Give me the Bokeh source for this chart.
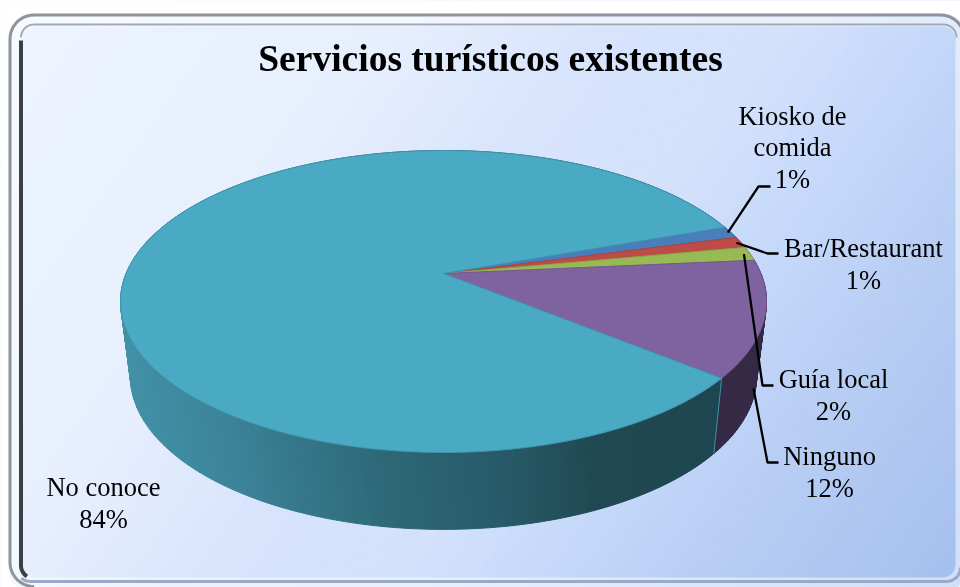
import numpy as np
from bokeh.plotting import figure
from bokeh.models import Range1d
from bokeh.core.properties import value
from bokeh.embed import file_html
from bokeh.resources import INLINE

# ---- data ----
TITLE = "Servicios turísticos existentes"
categories = ["Kiosko de comida", "Bar/Restaurant", "Guía local", "Ninguno", "No conoce"]
shares = [1.3, 1.2, 1.5, 12.4, 83.6]
pct_labels = ["1%", "1%", "2%", "12%", "84%"]
top_colors = ["#4a7ebb", "#be4b48", "#98b954", "#7f62a0", "#4aa9c3"]
edge_colors = ["#4274ad", "#a94441", "#88a54c", "#725890", "#3f96ae"]
side_colors = ["#2c4a70", "#702b2a", "#5a6e32", "#352a45", None]
first_slice_angle = 70.3

# ---- layout / style ----
W, H = 960, 587
CX = 443
TOP = dict(k=0.1854, a=317.4, b=145.8, y0=273.0, rot=0.0)
BOT = dict(k=0.16, a=309.0, b=149.0, y0=351.5, rot=1.4)
TEAL_STOPS_X = [120, 250, 400, 500, 600, 720]
TEAL_STOPS_C = [(0x42, 0x93, 0xaa), (0x3b, 0x82, 0x96), (0x2d, 0x67, 0x76),
                (0x27, 0x5b, 0x69), (0x1f, 0x48, 0x51), (0x1e, 0x46, 0x50)]
BG_T = [0.0, 0.30, 0.45, 0.59, 0.70, 0.81, 0.98, 1.0]
BG_C = [(0xee, 0xf5, 0xff), (0xe7, 0xef, 0xfe), (0xd8, 0xe4, 0xfc), (0xd3, 0xe1, 0xfb),
        (0xc4, 0xd8, 0xfa), (0xb7, 0xcd, 0xf3), (0xa6, 0xc0, 0xef), (0xa4, 0xbe, 0xee)]


def proj(theta_deg, P, radius=1.0):
    t = np.radians(np.asarray(theta_deg) + P["rot"])
    u, v = radius * np.cos(t), radius * np.sin(t)
    d = 1 + P["k"] * v
    return CX + P["a"] * u / d, P["y0"] - P["b"] * v / d


def rrect(l, t, r, b, rad, n=12):
    xs, ys = [], []
    for cx, cy, a0 in [(r - rad, t + rad, -90), (r - rad, b - rad, 0), (l + rad, b - rad, 90), (l + rad, t + rad, 180)]:
        a = np.radians(np.linspace(a0, a0 + 90, n))
        xs += list(cx + rad * np.cos(a))
        ys += list(cy + rad * np.sin(a))
    return xs, ys


def hexc(c):
    return "#%02x%02x%02x" % tuple(int(round(v)) for v in c)


p = figure(width=W, height=H, x_range=Range1d(0, W), y_range=Range1d(H, 0), output_backend="svg",
           toolbar_location=None, min_border=0, outline_line_color=None, background_fill_color="white",
           border_fill_color="white", styles={"position": "fixed", "left": "0px", "top": "0px"})
p.xaxis.visible = False
p.yaxis.visible = False
p.grid.visible = False

# background gradient: diagonal bands
bands = np.linspace(0, 1, 121)
bx, by, bc = [], [], []
yt, yb = -10.0, H + 10.0
def xat(t, y):
    return W * (t - 0.3 * y / H) / 0.7
for t0, t1 in zip(bands[:-1], bands[1:]):
    e0 = t0 if t0 > 0 else -0.2
    e1 = t1 if t1 < 1 else 1.2
    bx.append([xat(e0, yt), xat(e1, yt), xat(e1, yb), xat(e0, yb)])
    by.append([yt, yt, yb, yb])
    bc.append(hexc([np.interp((t0 + t1) / 2, BG_T, [c[i] for c in BG_C]) for i in range(3)]))
p.patches(xs=bx, ys=by, fill_color=bc, line_color=bc, line_width=1)

# frame: mask outside, band, strokes (single outlines with a seam, no holes)
ox, oy = rrect(8, 13, 966, 592, 24)
ix, iy = rrect(22, 26, 955, 577, 13)
p.patch([-5, W + 5, W + 5, -5, -5] + ox[::-1] + [ox[-1], -5], [-5, -5, H + 5, H + 5, -5] + oy[::-1] + [oy[-1], -5],
        fill_color="white", line_color=None)
p.patch(ox + [ox[0]] + ix[::-1][-1:] + ix[::-1] + [ix[0]], oy + [oy[0]] + iy[::-1][-1:] + iy[::-1] + [iy[0]],
        fill_color="white", fill_alpha=0.5, line_color=None)

a = np.radians(np.linspace(90, 180, 12))
b = np.radians(np.linspace(180, 270, 12))
c = np.radians(np.linspace(270, 360, 12))
d = np.radians(np.linspace(0, 90, 12))
# outer grey: bottom-left corner, left, top, top-right corner
R = 24
xs = list(9.5 + R + R * np.cos(a)) + list(9.5 + R + R * np.cos(b)) + list(940 + R * np.cos(c))
ys = list(586 - R + R * np.sin(a)) + list(14.5 + R + R * np.sin(b)) + list(14.5 + R + R * np.sin(c))
p.line(xs, ys, line_color="#8f949b", line_width=3)
# grey-blue bottom shadow
R = 14
xs = list(30 + R * np.cos(a[::-1])) + list(946 + R * np.cos(d[::-1]))
ys = list(567 + R * np.sin(a[::-1])) + list(567 + R * np.sin(d[::-1]))
p.line(xs[6:], ys[6:], line_color="#9aa9c8", line_width=3)
# inner top
R = 13
xs = list(20.5 + R + R * np.cos(b)) + list(943 + R * np.cos(c))
ys = list(24 + R + R * np.sin(b)) + list(24 + R + R * np.sin(c))
p.line(xs, ys, line_color="#a4a9b3", line_width=2)
# inner left, dark
xs = [20.5] + list(20.5 + R + R * np.cos(a[::-1]))[:8]
ys = [40] + list(565 + R * np.sin(a[::-1]))[:8]
p.line(xs, ys, line_color="#3b3f46", line_width=4)

# pie side: strips painted back to front
bounds = [90 - first_slice_angle - 360 * s / 100 for s in np.concatenate(([0], np.cumsum(shares)))]
strips_x, strips_y, strips_c, order = [], [], [], []
for i in range(len(shares)):
    a0, a1 = bounds[i], bounds[i + 1]
    n = max(2, int(abs(a0 - a1) / 1.0) + 1)
    ang = np.linspace(a0, a1, n)
    for t0, t1 in zip(ang[:-1], ang[1:]):
        x0, y0 = proj(t0, TOP); x1, y1 = proj(t1, TOP)
        x2, y2 = proj(t1, BOT); x3, y3 = proj(t0, BOT)
        strips_x.append([x0, x1, x2, x3]); strips_y.append([y0, y1, y2, y3])
        if side_colors[i] is None:
            mx = (x2 + x3) / 2
            col = [np.interp(mx, TEAL_STOPS_X, [s[j] for s in TEAL_STOPS_C]) for j in range(3)]
            strips_c.append(hexc(col))
        else:
            strips_c.append(side_colors[i])
        order.append(np.sin(np.radians((t0 + t1) / 2)))
idx = np.argsort(-np.array(order))
p.patches(xs=[strips_x[i] for i in idx], ys=[strips_y[i] for i in idx],
          fill_color=[strips_c[i] for i in idx], line_color=[strips_c[i] for i in idx], line_width=1)

# edge between purple and teal side
x0, y0 = proj(bounds[4], TOP); x1, y1 = proj(bounds[4], BOT)
p.line([x0, x1], [y0, y1], line_color="#3f8fa5", line_width=1)

# pie top
for i in range(len(shares)):
    ang = np.linspace(bounds[i], bounds[i + 1], max(3, int(abs(bounds[i] - bounds[i + 1]) * 2)))
    rx, ry = proj(ang, TOP)
    p.patch(np.r_[CX, rx], np.r_[TOP["y0"], ry], fill_color=top_colors[i], line_color=edge_colors[i], line_width=1)

# leader lines
mids = [(bounds[i] + bounds[i + 1]) / 2 for i in range(len(shares))]
LW = 2.3
sx, sy = proj(mids[0], TOP, 0.99)
p.line([sx, 758, 770], [sy, 186, 186], line_color="black", line_width=LW)
sx, sy = proj(mids[1], TOP, 0.985)
p.line([sx, 767, 778], [sy, 253, 253], line_color="black", line_width=LW)
sx, sy = proj(mids[2], TOP, 0.98)
p.line([sx, 762, 773], [sy, 385, 385], line_color="black", line_width=LW)
p.line([753, 767, 778], [388, 462, 462], line_color="black", line_width=LW)

# texts (y values are text centres)
SERIF = value("Liberation Serif")
p.text([490], [58], text=[TITLE], text_font=SERIF, text_font_size="37.5px", text_font_style="bold",
       text_align="center", text_baseline="middle", text_color="black")
label_rows = [
    (792, 115, "Kiosko de"), (792, 146, "comida"), (792, 178, pct_labels[0]),
    (863, 247, categories[1]), (863, 279, pct_labels[1]),
    (833, 378, categories[2]), (833, 410, pct_labels[2]),
    (829, 455, categories[3]), (829, 487, pct_labels[3]),
    (103, 486, categories[4]), (103, 518, pct_labels[4]),
]
p.text([r[0] for r in label_rows], [r[1] for r in label_rows], text=[r[2] for r in label_rows],
       text_font=SERIF, text_font_size="26.5px", text_align="center", text_baseline="middle", text_color="black")

open("out.html", "w").write(file_html(p, INLINE))
